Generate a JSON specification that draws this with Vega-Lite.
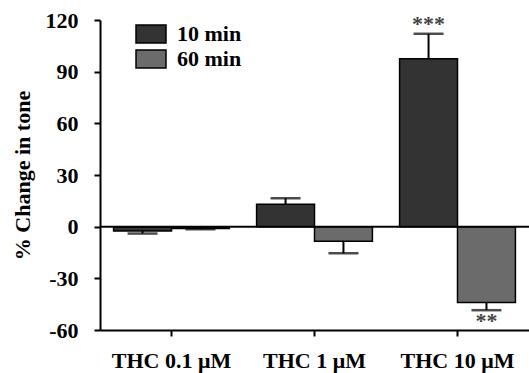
{
  "$schema": "https://vega.github.io/schema/vega-lite/v6.json",
  "width": 429,
  "height": 310,
  "autosize": "none",
  "padding": {"left": 100, "top": 20, "right": 0, "bottom": 43},
  "background": "white",
  "config": {
    "view": {"stroke": null},
    "font": "Liberation Serif",
    "axis": {"labelFont": "Liberation Serif", "titleFont": "Liberation Serif", "labelFontWeight": "bold", "titleFontWeight": "bold", "labelColor": "black", "titleColor": "black", "domainColor": "black", "tickColor": "black", "domainWidth": 2, "tickWidth": 2, "grid": false}
  },
  "data": {
    "values": [
      {"group": "THC 0.1 μM", "time": "10 min", "mean": -2.5, "errEnd": -4, "stars": ""},
      {"group": "THC 0.1 μM", "time": "60 min", "mean": -1, "errEnd": -1.5, "stars": ""},
      {"group": "THC 1 μM", "time": "10 min", "mean": 13, "errEnd": 16.5, "stars": ""},
      {"group": "THC 1 μM", "time": "60 min", "mean": -8.5, "errEnd": -15.5, "stars": ""},
      {"group": "THC 10 μM", "time": "10 min", "mean": 97.5, "errEnd": 112, "stars": "***"},
      {"group": "THC 10 μM", "time": "60 min", "mean": -44, "errEnd": -48.5, "stars": "**"}
    ]
  },
  "encoding": {
    "x": {
      "field": "group", "type": "nominal", "sort": null,
      "scale": {"paddingInner": 0.19, "paddingOuter": 0.095},
      "axis": {"title": null, "labelAngle": 0, "labelFontSize": 22, "tickSize": 6, "labelPadding": 14}
    },
    "xOffset": {"field": "time", "type": "nominal", "scale": {"padding": 0}}
  },
  "layer": [
    {
      "mark": {"type": "rule", "color": "black", "strokeWidth": 2},
      "encoding": {"y": {"field": "mean", "type": "quantitative"}, "y2": {"field": "errEnd"}}
    },
    {
      "mark": {"type": "tick", "color": "black", "thickness": 2.5, "size": 30},
      "encoding": {"y": {"field": "errEnd", "type": "quantitative"}}
    },
    {
      "mark": {"type": "bar", "stroke": "black", "strokeWidth": 1.5},
      "encoding": {
        "y": {
          "field": "mean", "type": "quantitative",
          "scale": {"domain": [-60, 120], "nice": false, "zero": false},
          "axis": {"values": [-60, -30, 0, 30, 60, 90, 120], "labelExpr": "replace(datum.label, '−', '-')", "title": "% Change in tone", "titleFontSize": 22, "labelFontSize": 22, "tickSize": 6, "labelPadding": 16, "titlePadding": 11}
        },
        "color": {
          "field": "time", "type": "nominal",
          "scale": {"domain": ["10 min", "60 min"], "range": ["#333333", "#6b6b6b"]},
          "legend": {
            "title": null, "orient": "none", "legendX": 40, "legendY": 3,
            "padding": 0, "symbolType": "M-1.5,-0.9H1.5V0.9H-1.5Z", "symbolSize": 400,
            "symbolStrokeColor": "black", "symbolStrokeWidth": 1.5, "symbolOpacity": 1,
            "labelFont": "Liberation Serif", "labelFontWeight": "bold", "labelFontSize": 22,
            "labelColor": "black", "labelOffset": 15, "rowPadding": 1
          }
        }
      }
    },
    {
      "transform": [{"filter": "datum.errEnd > 0"}],
      "mark": {"type": "text", "baseline": "bottom", "fontSize": 22, "fontWeight": "bold", "color": "#444444", "dy": 2},
      "encoding": {"y": {"field": "errEnd", "type": "quantitative"}, "text": {"field": "stars"}}
    },
    {
      "transform": [{"filter": "datum.errEnd < 0"}],
      "mark": {"type": "text", "baseline": "top", "fontSize": 22, "fontWeight": "bold", "color": "#444444", "dy": 1},
      "encoding": {"y": {"field": "errEnd", "type": "quantitative"}, "text": {"field": "stars"}}
    },
    {
      "data": {"values": [{"zero": 0}]},
      "mark": {"type": "rule", "color": "black", "strokeWidth": 2},
      "encoding": {"y": {"field": "zero", "type": "quantitative"}, "x": null, "xOffset": null}
    }
  ]
}
